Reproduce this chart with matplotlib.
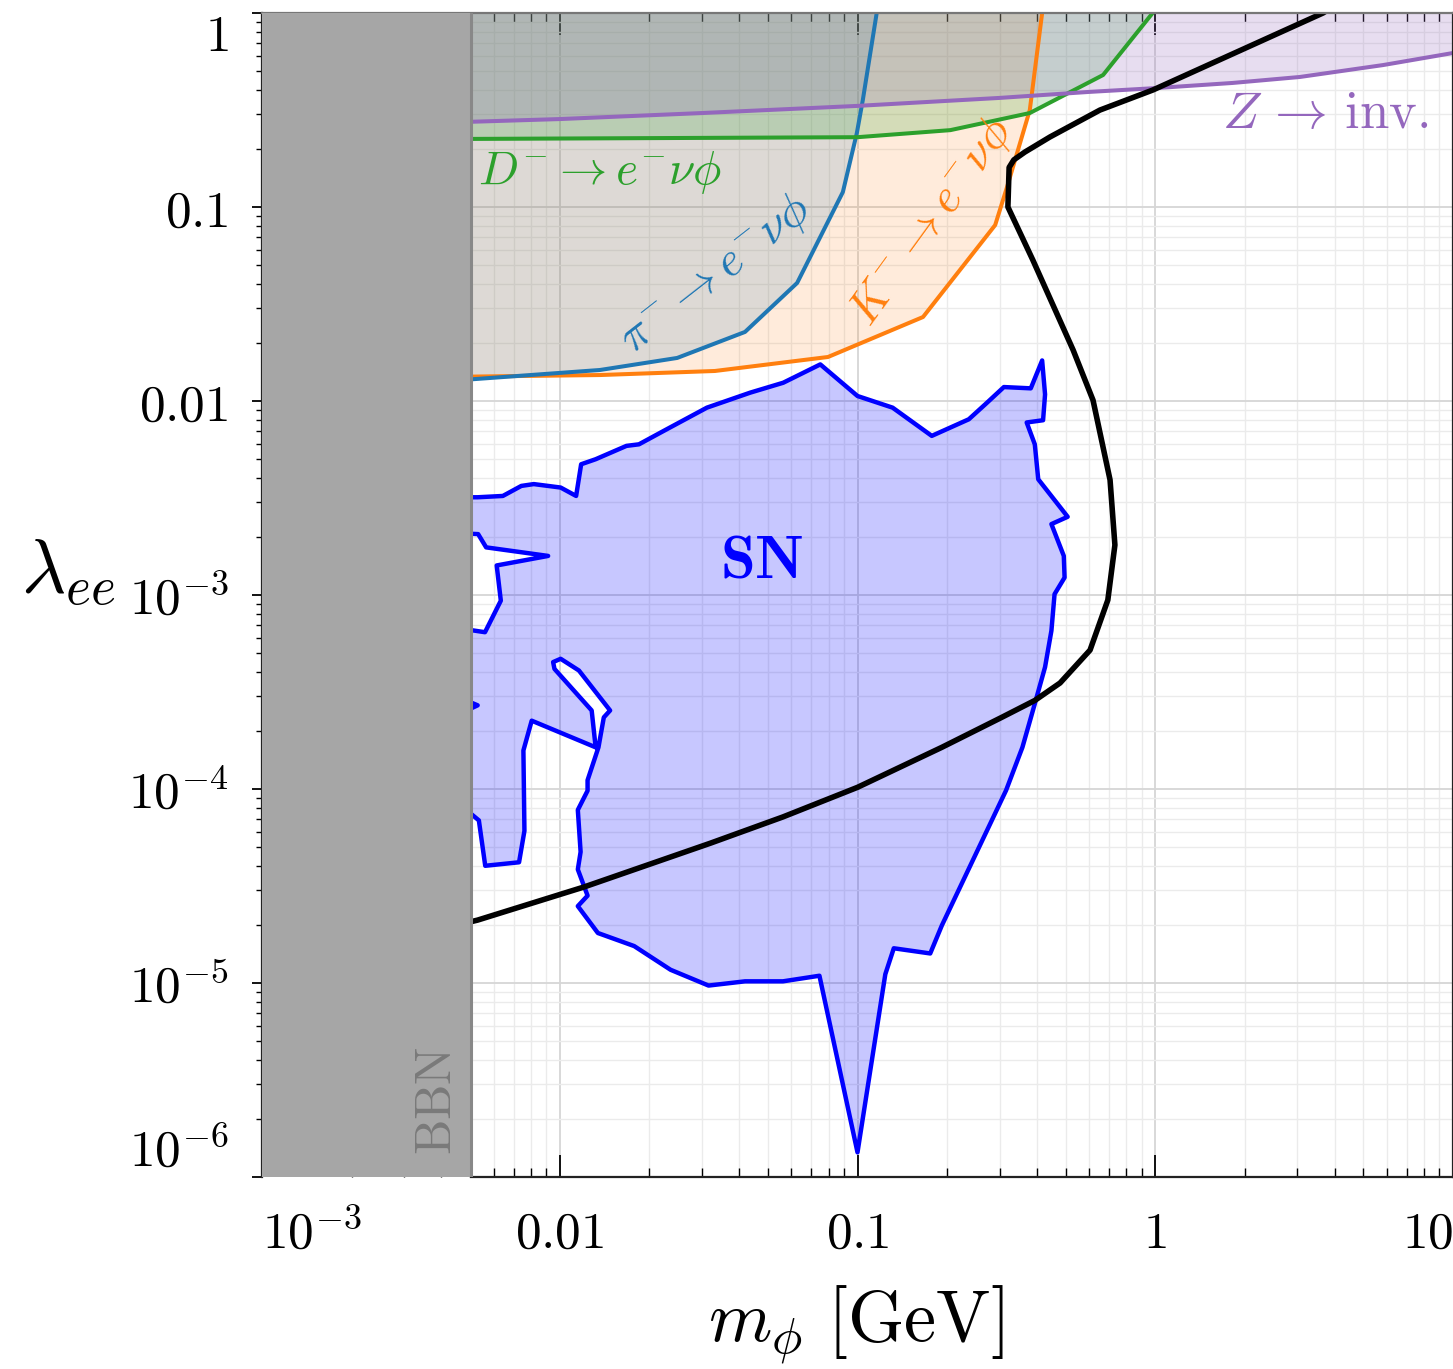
"""SN / meson-decay limits on lambda_ee vs m_phi"""

import numpy as np
import matplotlib
matplotlib.use('Agg')
import matplotlib.pyplot as plt
from matplotlib import ticker

plt.rcParams['mathtext.fontset'] = 'cm'
plt.rcParams['font.family'] = ['DejaVu Serif']

# --- data (GeV, coupling) ---
bbn_max = 0.00503

z_x = [0.004, 0.01, 0.03, 0.1, 0.3, 0.6, 1.0, 1.82, 3.06, 5.82, 10.0, 12.0]
z_y = [0.272, 0.284, 0.305, 0.332, 0.365, 0.392, 0.41, 0.436, 0.468, 0.539, 0.622, 0.66]

d_x = [0.004, 0.1, 0.205, 0.379, 0.668, 0.98, 1.02]
d_y = [0.224, 0.229, 0.249, 0.305, 0.479, 1.0, 1.1]

pi_x = [0.004, 0.01365, 0.0248, 0.0419, 0.0627, 0.0893, 0.0995, 0.1042, 0.116, 0.118]
pi_y = [0.0126, 0.01445, 0.01667, 0.0227, 0.0406, 0.1194, 0.2406, 0.356, 1.0, 1.3]

k_x = [0.004, 0.01365, 0.0332, 0.0796, 0.166, 0.290, 0.318, 0.379, 0.417, 0.425]
k_y = [0.0133, 0.01361, 0.01428, 0.01686, 0.0271, 0.0807, 0.127, 0.316, 1.0, 1.3]

bound_x = [0.004, 0.0053, 0.0121, 0.0321, 0.0562, 0.1, 0.192, 0.305, 0.394, 0.479,
           0.604, 0.693, 0.732, 0.705, 0.618, 0.53, 0.388, 0.32, 0.323, 0.335, 0.365,
           0.443, 0.652, 0.982, 3.66, 4.6]
bound_y = [1.9e-5, 2.11e-5, 3.13e-5, 5.26e-5, 7.18e-5, 1.02e-4, 1.64e-4, 2.34e-4, 2.86e-4, 3.52e-4,
           5.2e-4, 9.42e-4, 1.81e-3, 3.92e-3, 0.0101, 0.0183, 0.0533, 0.1, 0.16, 0.175, 0.192,
           0.2296, 0.316, 0.401, 1.0, 1.25]

sn_x = [0.0053, 0.00644, 0.00743, 0.00818, 0.01007, 0.01135, 0.0118, 0.0132, 0.01675, 0.01845,
        0.02233, 0.0312, 0.0436, 0.0563, 0.075, 0.1, 0.1312, 0.1776, 0.2365, 0.2687,
        0.3102, 0.3819, 0.417, 0.4265, 0.42, 0.37, 0.394, 0.4046, 0.508, 0.448,
        0.493, 0.496, 0.459, 0.448, 0.4265, 0.394, 0.358, 0.3155, 0.192, 0.1755,
        0.1324, 0.124, 0.1, 0.0745, 0.0562, 0.0419, 0.0316, 0.02356, 0.01778, 0.01343,
        0.0115, 0.0124, 0.0115, 0.01175, 0.0115, 0.0124, 0.0124, 0.01349, 0.01406, 0.01476,
        0.0116, 0.01007, 0.0095, 0.0096, 0.0128, 0.0132, 0.00805, 0.00755, 0.00761, 0.0073,
        0.00562, 0.00535, 0.004, 0.0045, 0.0053, 0.0045, 0.004, 0.00561, 0.00634, 0.00614,
        0.00914, 0.00566, 0.00532, 0.004, 0.004]
sn_y = [3.19e-3, 3.24e-3, 3.65e-3, 3.73e-3, 3.58e-3, 3.24e-3, 4.72e-3, 5.01e-3, 5.87e-3, 5.98e-3,
        7.01e-3, 9.24e-3, 0.01104, 0.01242, 0.01544, 0.01061, 9.24e-3, 6.61e-3, 8.05e-3, 9.62e-3,
        0.0118, 0.01162, 0.01618, 0.01081, 7.96e-3, 7.75e-3, 5.98e-3, 3.95e-3, 2.53e-3, 2.32e-3,
        1.59e-3, 1.23e-3, 1.01e-3, 6.55e-4, 4.25e-4, 2.75e-4, 1.64e-4, 9.84e-5, 1.98e-5, 1.42e-5,
        1.51e-5, 1.11e-5, 1.34e-6, 1.09e-5, 1.02e-5, 1.02e-5, 9.7e-6, 1.17e-5, 1.55e-5, 1.81e-5,
        2.49e-5, 2.82e-5, 3.85e-5, 4.74e-5, 7.8e-5, 9.8e-5, 1.11e-4, 1.64e-4, 2.34e-4, 2.54e-4,
        4.08e-4, 4.69e-4, 4.51e-4, 4.16e-4, 2.54e-4, 1.64e-4, 2.25e-4, 1.58e-4, 6.08e-5, 4.19e-5,
        4.02e-5, 6.89e-5, 1.0e-4, 2.4e-4, 2.7e-4, 3.0e-4, 6.95e-4, 6.43e-4, 9.35e-4, 1.42e-3,
        1.59e-3, 1.76e-3, 2.06e-3, 2.1e-3, 3.19e-3]

x_ticks = [1e-3, 1e-2, 1e-1, 1, 10]
x_tick_labels = [r'$10^{-3}$', r'$0.01$', r'$0.1$', r'$1$', r'$10$']
y_ticks = [1e-6, 1e-5, 1e-4, 1e-3, 1e-2, 1e-1, 1]
y_tick_labels = [r'$10^{-6}$', r'$10^{-5}$', r'$10^{-4}$', r'$10^{-3}$', r'$0.01$', r'$0.1$', r'$1$']

PURPLE = '#9467bd'
GREEN = '#2ca02c'
BLUE = '#1f77b4'
ORANGE = '#ff7f0e'

W, H = 1453, 1369
fig = plt.figure(figsize=(W / 100, H / 100), dpi=100)
ax = fig.add_axes([262 / W, 1 - 1177 / H, (W - 262) / W, (1177 - 13) / H])
ax.set_xscale('log')
ax.set_yscale('log')
ax.set_xlim(1e-3, 10)
ax.set_ylim(1e-6, 1)

# exclusion bands (filled above the curve)
ax.fill_between(k_x, k_y, 10, color=ORANGE, alpha=0.15, lw=0, zorder=1)
ax.fill_between(pi_x, pi_y, 10, color=BLUE, alpha=0.15, lw=0, zorder=1.05)
ax.fill_between(d_x, d_y, 10, color=GREEN, alpha=0.2, lw=0, zorder=1.1)
ax.fill_between(z_x, z_y, 10, color=PURPLE, alpha=0.22, lw=0, zorder=1.15)
for xs, ys, c in [(k_x, k_y, ORANGE), (pi_x, pi_y, BLUE), (d_x, d_y, GREEN), (z_x, z_y, PURPLE)]:
    ax.plot(xs, ys, color=c, lw=2.9, zorder=2, solid_joinstyle='round')

ax.fill(sn_x, sn_y, facecolor=(0, 0, 1, 0.22), edgecolor='#0000ff', lw=3.2,
        joinstyle='round', zorder=1.5)
ax.plot(bound_x, bound_y, color='black', lw=4.0, zorder=2.2, solid_joinstyle='round')

# BBN
ax.axvspan(1e-4, bbn_max, color='#a6a6a6', lw=0, zorder=2.6)
ax.axvline(bbn_max, color='#888888', lw=2.2, zorder=2.7)
ax.text(0.00387, 1.3e-6, r'$\mathrm{BBN}$', rotation=90, ha='center', va='bottom',
        color='#7a7a7a', fontsize=36, zorder=3)

# labels on the curves
ax.text(0.00531, 0.1514, r'$D^{-}\to e^{-}\nu\phi$', color=GREEN, fontsize=34,
        ha='left', va='center', zorder=3)
ax.text(0.0335, 0.0446, r'$\pi^{-}\to e^{-}\nu\phi$', color=BLUE, fontsize=34,
        ha='center', va='center', rotation=38, rotation_mode='anchor', zorder=3)
ax.text(0.178, 0.0837, r'$K^{-}\to e^{-}\nu\phi$', color=ORANGE, fontsize=34,
        ha='center', va='center', rotation=54, rotation_mode='anchor', zorder=3)
ax.text(3.72, 0.305, r'$Z\,\to\,\mathrm{inv.}$', color=PURPLE, fontsize=38,
        ha='center', va='center', zorder=3)
ax.text(0.0477, 1.51e-3, r'$\mathbf{SN}$', color='#0000ff', fontsize=45,
        ha='center', va='center', zorder=3)

# grid
ax.set_axisbelow(True)
ax.grid(which='major', color='#d6d6d6', lw=1.3)
ax.grid(which='minor', color='#ebebeb', lw=1.0)

# ticks
ax.xaxis.set_major_locator(ticker.FixedLocator(x_ticks))
ax.xaxis.set_minor_locator(ticker.LogLocator(10, subs=np.arange(2, 10), numticks=50))
ax.yaxis.set_major_locator(ticker.FixedLocator(y_ticks))
ax.yaxis.set_minor_locator(ticker.LogLocator(10, subs=np.arange(2, 10), numticks=50))
ax.set_xticklabels(x_tick_labels, fontsize=37)
ax.set_yticklabels(y_tick_labels, fontsize=37)
ax.xaxis.set_minor_formatter(ticker.NullFormatter())
ax.yaxis.set_minor_formatter(ticker.NullFormatter())

ax.tick_params(axis='x', which='major', direction='in', top=True, bottom=True,
               length=16, width=1.3, pad=51)
ax.tick_params(axis='x', which='minor', direction='in', top=True, bottom=True,
               length=6.5, width=1.0)
ax.tick_params(axis='y', which='major', direction='out', left=True, right=False,
               length=7, width=1.3, pad=17)
ax.tick_params(axis='y', which='minor', direction='out', left=True, right=False,
               length=4.5, width=1.0)

for lab in ax.get_xticklabels():
    lab.set_va('baseline')
xl = ax.get_xticklabels()
xl[0].set_ha('left')
xl[-1].set_ha('right')
yl = ax.get_yticklabels()
yl[0].set_va('bottom')
yl[-1].set_va('top')

for side in ['left', 'bottom', 'right']:
    ax.spines[side].set_color('#222222')
    ax.spines[side].set_linewidth(1.6)
ax.spines['top'].set_color('#777777')
ax.spines['top'].set_linewidth(1.6)
ax.spines['bottom'].set_bounds(bbn_max, 10)

fig.text(856 / W, 1 - 1325 / H, r'$m_{\phi}\ [\mathrm{GeV}]$', fontsize=52,
         ha='center', va='center')
fig.text(68 / W, 1 - 572 / H, r'$\lambda_{ee}$', fontsize=55, ha='center', va='center')

fig.savefig('out.png', dpi=100)
